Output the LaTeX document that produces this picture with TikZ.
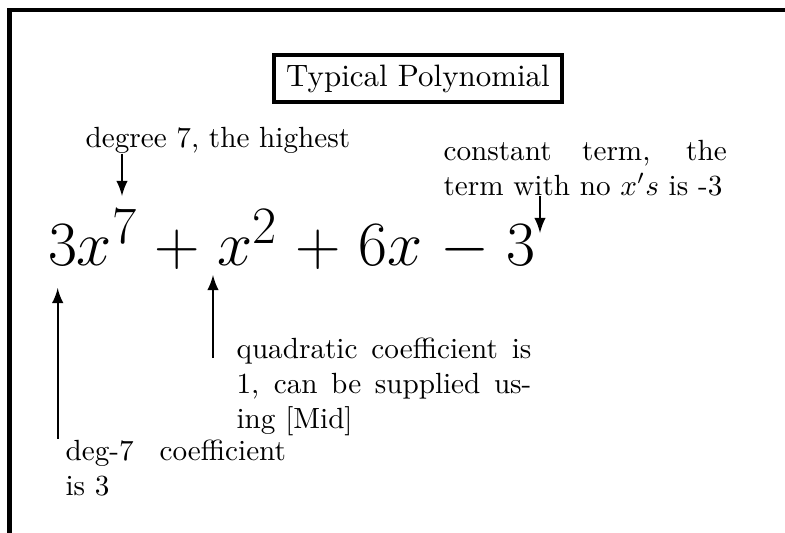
\documentclass[tikz,border=0pt]{standalone}
\usetikzlibrary{positioning}
\tikzset{
  >=latex,
  frame/.style = {line width=1.4pt},
  title/.style = {draw, line width=1.4pt, inner xsep=4.3pt, inner ysep=3.2pt,
                  font=\fontsize{10.6pt}{13pt}\selectfont},
  lbl/.style   = {inner sep=0pt, anchor=base west},
  para/.style  = {lbl, align=justify},
  arr/.style   = {->, thick},
}
\begin{document}
\begin{tikzpicture}[x=0.3425pt, y=-0.3425pt]
  \useasboundingbox (0,0) rectangle (785,533);
  % frame, running off the page to the right and bottom
  \draw[frame] (9.5,540) -- (9.5,10) -- (790,10);
  \node[title] (head) at (418,78.5) {Typical Polynomial};
  \node[lbl, font=\Huge, scale=0.868] (poly) at (47.5,266)
    {$\medmuskip=5mu 3x^7+x^2+6x-3$};
  % labels
  \node[lbl] (deg) at (85,147) {degree 7, the highest};
  \node[para, text width=97pt] (const) at (443,160) {constant term, the term with no $x's$ is -3};
  \node[para, text width=101pt] (quad) at (236,358) {quadratic coefficient is 1, can be supplied using [Mid]};
  \node[para, text width=75.5pt] (coef) at (65,460) {deg-7 coefficient is 3};
  % arrow tips
  \coordinate (t7) at (122,196);
  \coordinate (tc) at (540,233);
  \coordinate (t2) at (213,275);
  \coordinate (t3) at (57.7,288);
  \draw[arr] (deg.south -| t7) -- (t7);
  \draw[arr] (const.south -| tc) -- (tc);
  \draw[arr] (quad.base west -| t2) -- (t2);
  \draw[arr] (coef.north west -| t3) -- (t3);
\end{tikzpicture}
\end{document}
